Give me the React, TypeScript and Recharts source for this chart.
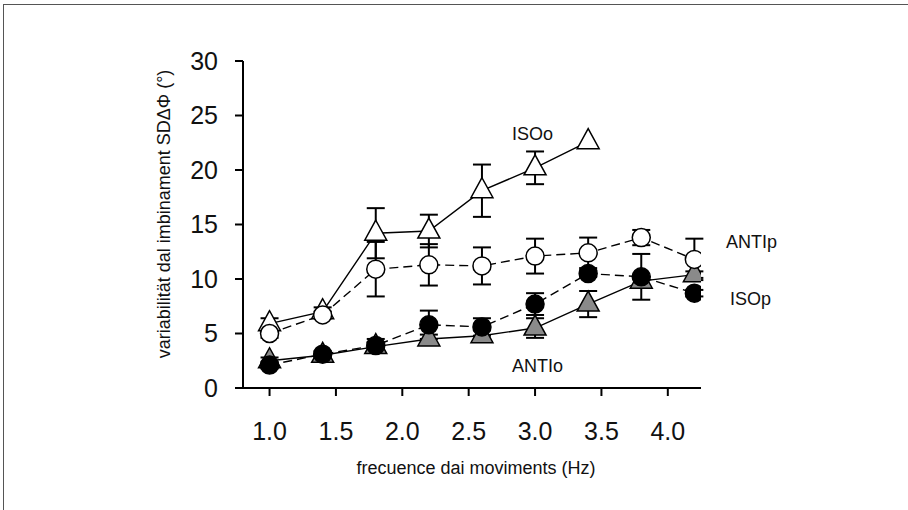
import React from 'react'
import { LineChart, Line, XAxis, YAxis, ErrorBar } from 'recharts'

const freqs = [1.0, 1.4, 1.8, 2.2, 2.6, 3.0, 3.4, 3.8, 4.2]

// ISOo: open triangles, solid line (stops at 3.4 Hz)
const isoO = [5.9, 7.0, 14.2, 14.4, 18.1, 20.2, 22.6]
const isoOErr = [0.5, 0.4, 2.3, 1.5, 2.4, 1.5, 0]

// ANTIp: open circles, dashed line
const antiP = [5.0, 6.7, 10.9, 11.3, 11.2, 12.1, 12.4, 13.8, 11.8]
const antiPErr = [0.4, 0.3, 2.5, 1.9, 1.7, 1.6, 1.4, 0.7, 1.9]

// ISOp: filled circles, dashed line
const isoP = [2.1, 3.1, 3.9, 5.8, 5.6, 7.7, 10.5, 10.2, 8.7]
const isoPErr = [0.3, 0.3, 0.6, 1.3, 0.8, 1.0, 0.3, 2.1, 0.3]

// ANTIo: grey triangles, solid line
const antiO = [2.5, 3.0, 3.8, 4.5, 4.8, 5.5, 7.7, 9.8, 10.4]
const antiOErr = [0.3, 0.3, 0.4, 0.4, 0.5, 0.9, 1.2, 0.4, 0.3]

const xTicks = [1.0, 1.5, 2.0, 2.5, 3.0, 3.5, 4.0]
const yTicks = [0, 5, 10, 15, 20, 25, 30]

const font = 'Liberation Sans, Arial, sans-serif'

const build = (vals: number[], errs: number[]) =>
  vals.map((v, i) => ({ f: freqs[i], v, e: errs[i] }))

const triangle = (fill: string) => (p: any) => (
  <polygon
    key={p.index}
    points={`${p.cx},${p.cy - 13} ${p.cx - 11},${p.cy + 7} ${p.cx + 11},${p.cy + 7}`}
    fill={fill}
    stroke="#000"
    strokeWidth={1.5}
  />
)

const circle = (fill: string) => (p: any) => (
  <circle key={p.index} cx={p.cx} cy={p.cy} r={9} fill={fill} stroke="#000" strokeWidth={1.5} />
)

const note = (text: string, left: number, cy: number) => (
  <div
    style={{
      position: 'absolute',
      left,
      top: cy - 9,
      fontFamily: font,
      fontSize: 18,
      lineHeight: '18px',
      color: '#111',
      whiteSpace: 'nowrap',
    }}
  >
    {text}
  </div>
)

export default function App() {
  return (
    <div style={{ position: 'absolute', left: 0, top: 0, width: 908, height: 510, overflow: 'hidden', background: '#fff' }}>
      <div
        style={{
          position: 'absolute',
          left: 3,
          top: 4,
          right: 0,
          bottom: 0,
          borderTop: '1.5px solid #555',
          borderLeft: '1.5px solid #555',
        }}
      />
      <div style={{ position: 'absolute', left: 0, top: 0 }}>
        <LineChart width={908} height={508} margin={{ top: 61, right: 207, bottom: 60, left: 183 }}>
          <XAxis
            dataKey="f"
            type="number"
            domain={[0.8, 4.25]}
            ticks={xTicks}
            tickFormatter={(t: number) => t.toFixed(1)}
            allowDataOverflow
            stroke="#000"
            strokeWidth={2}
            tickSize={8}
            tickMargin={26}
            height={60}
            tick={{ fill: '#111', fontSize: 25, fontFamily: font }}
            label={{
              content: () => (
                <text x={476} y={474} textAnchor="middle" fontFamily={font} fontSize={18} fill="#111">
                  frecuence dai moviments (Hz)
                </text>
              ),
            }}
          />
          <YAxis
            type="number"
            domain={[0, 30]}
            ticks={yTicks}
            stroke="#000"
            strokeWidth={2}
            tickSize={8}
            tickMargin={17}
            width={60}
            tick={{ fill: '#111', fontSize: 25, fontFamily: font }}
            label={{
              content: () => (
                <text
                  x={170}
                  y={214}
                  transform="rotate(-90 170 214)"
                  textAnchor="middle"
                  fontFamily={font}
                  fontSize={18}
                  fill="#111"
                >
                  variabilität dal imbinament SDΔΦ (°)
                </text>
              ),
            }}
          />
          <Line
            data={build(antiO, antiOErr)}
            dataKey="v"
            stroke="#000"
            strokeWidth={1.4}
            dot={triangle('#8a8a8a')}
            isAnimationActive={false}
          >
            <ErrorBar dataKey="e" direction="y" width={9} stroke="#000" strokeWidth={2} />
          </Line>
          <Line
            data={build(isoP, isoPErr)}
            dataKey="v"
            stroke="#000"
            strokeWidth={1.4}
            strokeDasharray="9 5"
            dot={circle('#000')}
            isAnimationActive={false}
          >
            <ErrorBar dataKey="e" direction="y" width={9} stroke="#000" strokeWidth={2} />
          </Line>
          <Line
            data={build(isoO, isoOErr)}
            dataKey="v"
            stroke="#000"
            strokeWidth={1.4}
            dot={triangle('#fff')}
            isAnimationActive={false}
          >
            <ErrorBar dataKey="e" direction="y" width={9} stroke="#000" strokeWidth={2} />
          </Line>
          <Line
            data={build(antiP, antiPErr)}
            dataKey="v"
            stroke="#000"
            strokeWidth={1.4}
            strokeDasharray="9 5"
            dot={circle('#fff')}
            isAnimationActive={false}
          >
            <ErrorBar dataKey="e" direction="y" width={9} stroke="#000" strokeWidth={2} />
          </Line>
        </LineChart>
      </div>
      {note('ISOo', 512, 134)}
      {note('ANTIp', 726, 242)}
      {note('ISOp', 730, 299)}
      {note('ANTIo', 512, 366)}
    </div>
  )
}
